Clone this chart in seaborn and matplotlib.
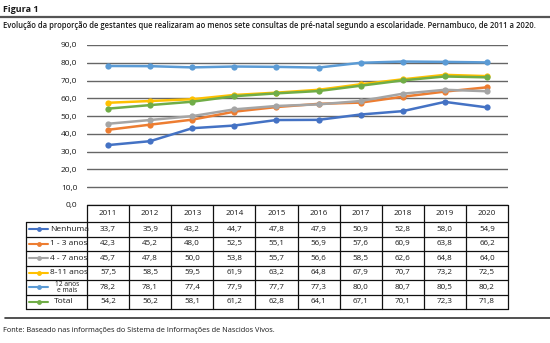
import matplotlib
matplotlib.use("Agg")
import matplotlib.pyplot as plt
import seaborn as sns
import pandas as pd
from matplotlib.lines import Line2D

years = [2011, 2012, 2013, 2014, 2015, 2016, 2017, 2018, 2019, 2020]
series_names = ["Nenhuma", "1 - 3 anos", "4 - 7 anos", "8-11 anos", "12 anos\ne mais", "Total"]
nenhuma = [33.7, 35.9, 43.2, 44.7, 47.8, 47.9, 50.9, 52.8, 58.0, 54.9]
anos_1_3 = [42.3, 45.2, 48.0, 52.5, 55.1, 56.9, 57.6, 60.9, 63.8, 66.2]
anos_4_7 = [45.7, 47.8, 50.0, 53.8, 55.7, 56.6, 58.5, 62.6, 64.8, 64.0]
anos_8_11 = [57.5, 58.5, 59.5, 61.9, 63.2, 64.8, 67.9, 70.7, 73.2, 72.5]
anos_12_mais = [78.2, 78.1, 77.4, 77.9, 77.7, 77.3, 80.0, 80.7, 80.5, 80.2]
total = [54.2, 56.2, 58.1, 61.2, 62.8, 64.1, 67.1, 70.1, 72.3, 71.8]
y_ticks = [0, 10, 20, 30, 40, 50, 60, 70, 80, 90]

values = [nenhuma, anos_1_3, anos_4_7, anos_8_11, anos_12_mais, total]
colors = ["#4472C4", "#ED7D31", "#A5A5A5", "#FFC000", "#5B9BD5", "#70AD47"]

sns.set_theme(style="white")
FONT = ["Open Sans", "DejaVu Sans"]
plt.rcParams["font.family"] = FONT
plt.rcParams["text.color"] = "#1a1a1a"

W, H = 550, 343
def fy(y):
    return 1 - y / H

fig = plt.figure(figsize=(W / 100, H / 100), dpi=100)

# Header
fig.text(3 / W, fy(9), "Figura 1", fontsize=6.5, fontweight="bold", va="center", ha="left")
fig.add_artist(Line2D([0, 1], [fy(17), fy(17)], color="#555555", lw=1.6))
fig.text(3 / W, fy(25), "Evolução da proporção de gestantes que realizaram ao menos sete consultas de pré-natal segundo a escolaridade. Pernambuco, de 2011 a 2020.",
         fontsize=5.5, fontweight="semibold", va="center", ha="left")

# Main chart
ax = fig.add_axes([87 / W, fy(205), (508 - 87) / W, (205 - 45) / H])
rows = []
for name, vals in zip(series_names, values):
    for yr, v in zip(years, vals):
        rows.append({"ano": yr, "valor": v, "serie": name})
df = pd.DataFrame(rows)
sns.lineplot(data=df, x="ano", y="valor", hue="serie", hue_order=series_names,
             palette=colors, marker="o", markersize=4.5, markeredgewidth=0,
             linewidth=1.8, ax=ax, legend=False)
ax.set_xlim(2010.5, 2020.5)
ax.set_ylim(0, 90)
ax.set_yticks(y_ticks)
ax.set_yticklabels([f"{t:.1f}".replace(".", ",") for t in y_ticks], fontsize=6,
                   fontweight="medium", color="#1a1a1a")
ax.set_xticks([])
ax.set_xlabel("")
ax.set_ylabel("")
for s in ax.spines.values():
    s.set_visible(False)
ax.tick_params(axis="y", length=0, pad=7)
for t in y_ticks:
    ax.axhline(t, color="#666666", lw=1.0, zorder=0)

# Table
tab = fig.add_axes([26 / W, fy(309), (508 - 26) / W, (309 - 205) / H])
xmin = 2010.5 - 61 / 42.1
tab.set_xlim(xmin, 2020.5)
tab.set_ylim(309, 205)
tab.axis("off")
px = lambda p: xmin + (p - 26) / 42.1

row_edges = [205, 222] + [222 + 14.5 * (i + 1) for i in range(6)]
lc = "#111111"
lw = 0.9
tab.plot([2010.5, 2020.5], [205, 205], color=lc, lw=lw, clip_on=False)
for e in row_edges[1:]:
    tab.plot([xmin, 2020.5], [e, e], color=lc, lw=lw, clip_on=False)
tab.plot([xmin, xmin], [222, 309], color=lc, lw=lw, clip_on=False)
for k in range(11):
    xv = 2010.5 + k
    tab.plot([xv, xv], [205, 309], color=lc, lw=lw, clip_on=False)

for yr in years:
    tab.text(yr, (205 + 222) / 2, str(yr), fontsize=5.8, fontweight="medium", ha="center", va="center")

for i, (name, vals, c) in enumerate(zip(series_names, values, colors)):
    yc = (row_edges[i + 1] + row_edges[i + 2]) / 2
    tab.plot([px(29), px(48)], [yc, yc], color=c, lw=1.5, clip_on=False)
    tab.plot([px(38.5)], [yc], marker="o", color=c, markersize=3.5, markeredgewidth=0, clip_on=False)
    if "\n" in name:
        tab.text(px(67), yc, name, fontsize=4.8, fontweight="medium", ha="center", va="center", linespacing=0.8)
    elif name == "Total":
        tab.text(px(54), yc, name, fontsize=6, fontweight="medium", ha="left", va="center")
    else:
        tab.text(px(50), yc, name, fontsize=6, fontweight="medium", ha="left", va="center")
    for yr, v in zip(years, vals):
        tab.text(yr, yc, f"{v:.1f}".replace(".", ","), fontsize=5.8, fontweight="medium",
                 ha="center", va="center")

# Footer
fig.add_artist(Line2D([5 / W, 1], [fy(318), fy(318)], color="#333333", lw=1.2))
fig.text(3 / W, fy(331), "Fonte: Baseado nas informações do Sistema de Informações de Nascidos Vivos.",
         fontsize=5.3, fontweight="medium", va="center", ha="left")

fig.savefig("out.png", dpi=100)
